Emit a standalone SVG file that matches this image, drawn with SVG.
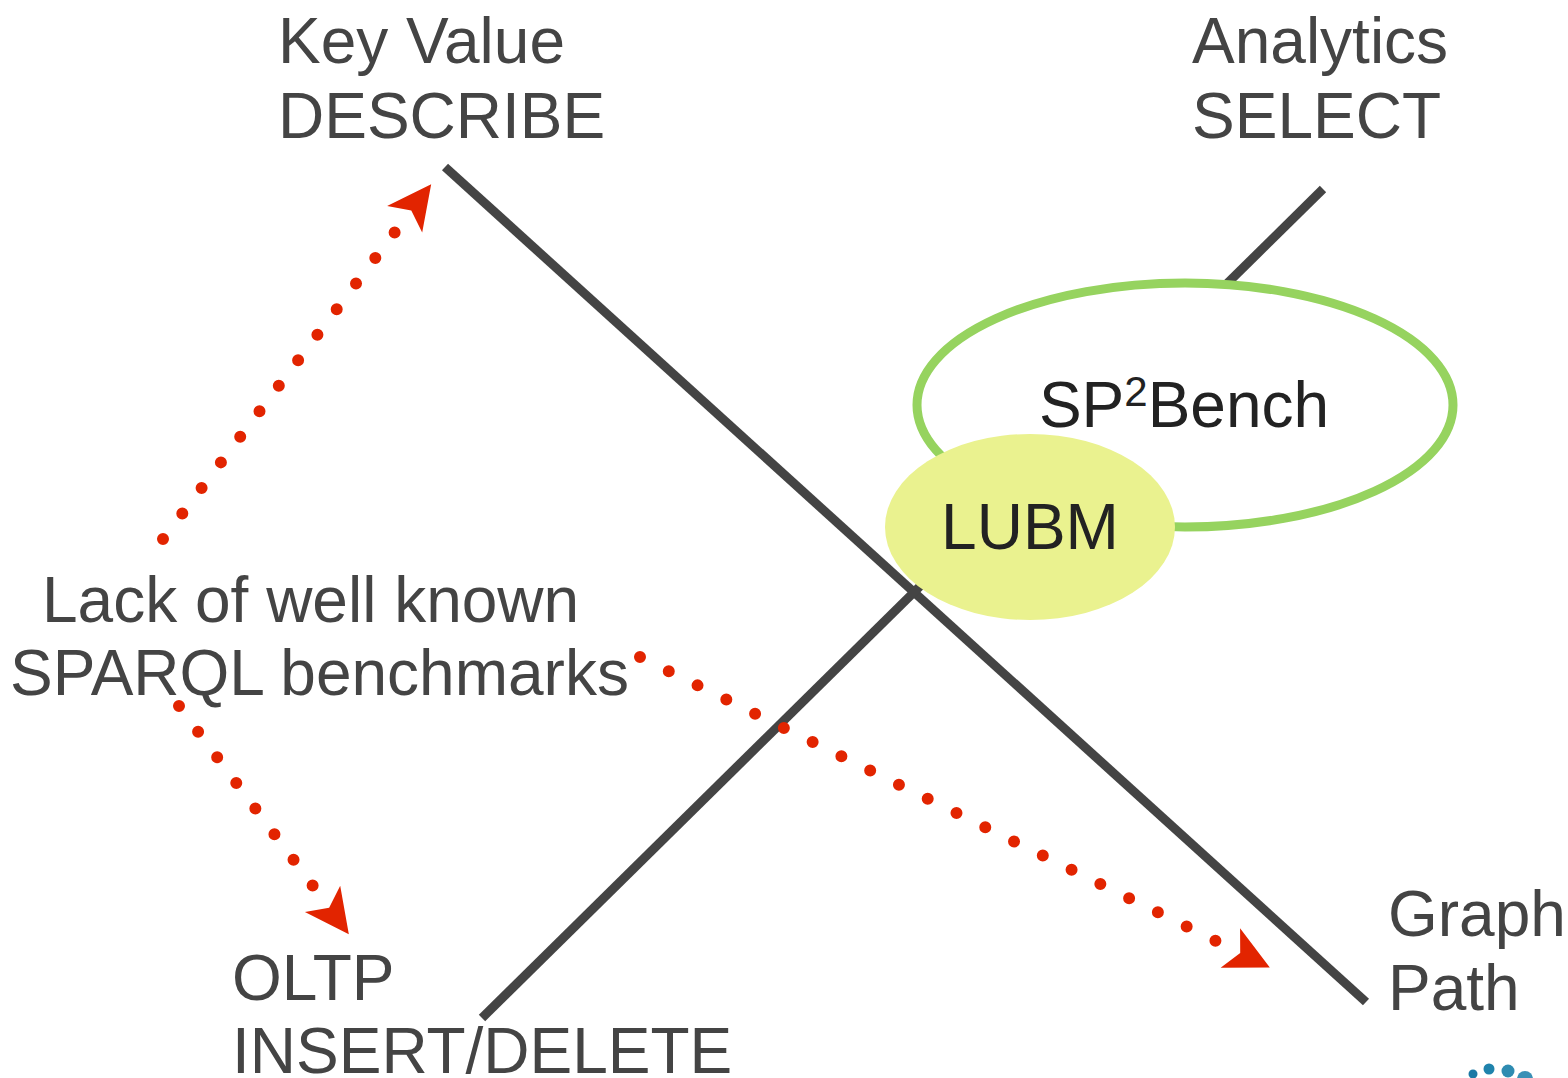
<svg xmlns="http://www.w3.org/2000/svg" width="1568" height="1078" viewBox="0 0 1568 1078">
<style>
.axis{stroke:#444444;stroke-width:9;fill:none}
.lbl{font-family:"Liberation Sans",Arial,sans-serif;font-size:64px;fill:#444444}
.in{font-family:"Liberation Sans",Arial,sans-serif;font-size:64px;fill:#222222}
.dots{stroke:#e22400;stroke-width:12;stroke-linecap:round;stroke-dasharray:0 1;fill:none}
</style>
<defs>
<marker id="head" markerUnits="userSpaceOnUse" orient="auto" refX="0" refY="0" markerWidth="80" markerHeight="60" viewBox="-10 -30 80 60" overflow="visible">
<path d="M60,0 L16,-22 L27,0 L16,22 Z" fill="#e22400"/>
</marker>
</defs>
<rect width="1568" height="1078" fill="#ffffff"/>
<g id="axes">
<line class="axis" x1="445" y1="167" x2="1366" y2="1002"/>
<line class="axis" x1="482" y1="1018" x2="1323" y2="189"/>
</g>
<g id="sp2bench">
<ellipse cx="1185" cy="405" rx="268" ry="122" fill="#ffffff" stroke="#96d35f" stroke-width="9"/>
<text class="in" x="1184" y="427" text-anchor="middle">SP<tspan font-size="42" dy="-21">2</tspan><tspan dy="21">Bench</tspan></text>
</g>
<g id="lubm">
<ellipse cx="1030" cy="527" rx="145" ry="93" fill="#eaf28f"/>
<text class="in" x="1030" y="549" text-anchor="middle" font-size="65">LUBM</text>
</g>
<g id="keyvalue">
<text class="lbl" x="278" y="63">Key Value</text>
<text class="lbl" x="278" y="138">DESCRIBE</text>
</g>
<g id="analytics">
<text class="lbl" x="1192" y="63">Analytics</text>
<text class="lbl" x="1192" y="138">SELECT</text>
</g>
<g id="graph">
<text class="lbl" x="1388" y="936">Graph</text>
<text class="lbl" x="1388" y="1010">Path</text>
</g>
<g id="oltp">
<text class="lbl" x="232" y="1000">OLTP</text>
<text class="lbl" x="232" y="1073">INSERT/DELETE</text>
</g>
<g id="lack">
<text class="lbl" x="42" y="622">Lack of well known</text>
<text class="lbl" x="10" y="695">SPARQL benchmarks</text>
</g>
<g id="connectors">
<path class="dots" d="M163,539 L395,232" pathLength="12.02" marker-end="url(#head)"/>
<path class="dots" d="M179,706 L313,886" pathLength="7.02" marker-end="url(#head)"/>
<path class="dots" d="M640,657 L1216,941" pathLength="20.02" marker-end="url(#head)"/>
</g>
<g id="logo">
<circle cx="1473" cy="1074" r="4.5" fill="#1b79a5"/>
<circle cx="1489" cy="1069" r="5.5" fill="#1f83ac"/>
<circle cx="1508" cy="1071" r="6.5" fill="#2e8bb1"/>
<circle cx="1525" cy="1079" r="8" fill="#3a90b6"/>
</g>
</svg>
